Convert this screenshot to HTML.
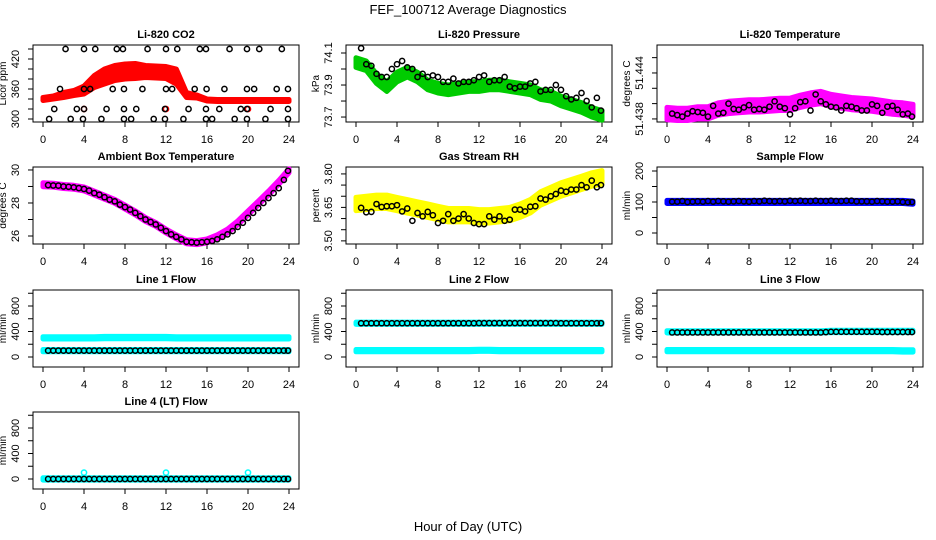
<!DOCTYPE html>
<html><head><meta charset="utf-8">
<style>
html,body{margin:0;padding:0;background:#fff;}
svg{display:block;font-family:"Liberation Sans",Arial,sans-serif;}
</style></head>
<body>
<svg id="chart" width="936" height="540" viewBox="0 0 936 540">
<text x="468" y="14" text-anchor="middle" font-size="13">FEF_100712  Average Diagnostics</text>
<text x="468" y="531" text-anchor="middle" font-size="13">Hour of Day (UTC)</text>
</svg>
<script>
// ---------- data ----------
const hours25 = [0,1,2,3,4,5,6,7,8,9,10,11,12,13,14,15,16,17,18,19,20,21,22,23,24];
const hours48 = [0.5,1,1.5,2,2.5,3,3.5,4,4.5,5,5.5,6,6.5,7,7.5,8,8.5,9,9.5,10,10.5,11,11.5,12,12.5,13,13.5,14,14.5,15,15.5,16,16.5,17,17.5,18,18.5,19,19.5,20,20.5,21,21.5,22,22.5,23,23.5,23.9];
const xTicks = [0,4,8,12,16,20,24];

const co2Band = [340,343,348,352,358,375,385,392,395,396,395,394,393,385,348,345,338,337,337,337,337,337,337,337,337];
const co2Half = [3,3,5,5,8,12,15,15,15,15,12,12,12,15,5,3,2,2,2,2,2,2,2,2,2];
const co2BlackT = [2.2,4.0,5.1,7.2,7.8,10.2,12.0,13.1,15.3,15.9,18.2,19.9,21.1,23.3, 1.66,4.0,4.6,6.8,7.9,9.7,12.0,12.6,14.8,15.96,17.7,19.9,20.6,22.8,23.9, 1.1,3.3,4.0,6.2,7.9,9.1,11.9,14.2,15.9,17.2,19.3,19.9,22.2,23.9, 0.6,2.7,3.9,5.7,7.9,8.6,10.8,11.9,13.7,15.9,16.5,18.7,19.9,21.7,23.9];
const co2BlackV = [440,440,440,440,440,440,440,440,440,440,440,440,440,440, 360,360,360,360,360,360,360,360,360,360,360,360,360,360,360, 320,320,320,320,320,320,320,320,320,320,320,320,320,320, 300,300,300,300,300,300,300,300,300,300,300,300,300,300,300];

const presBand = [74.04,74.02,73.94,73.89,73.95,73.98,73.95,73.90,73.88,73.87,73.88,73.89,73.89,73.90,73.90,73.89,73.88,73.87,73.84,73.83,73.80,73.78,73.76,73.73,73.71];
const presBlack = [74.13,74.03,74.02,73.97,73.95,73.95,74.0,74.03,74.05,74.01,74.0,73.95,73.97,73.95,73.96,73.95,73.92,73.92,73.94,73.91,73.92,73.92,73.93,73.95,73.96,73.92,73.93,73.93,73.95,73.89,73.88,73.89,73.89,73.91,73.92,73.86,73.87,73.87,73.90,73.87,73.83,73.81,73.82,73.85,73.80,73.76,73.82,73.74];

const tempBand = [51.4387,51.4386,51.4386,51.4388,51.4388,51.4393,51.4395,51.4396,51.4397,51.4397,51.4398,51.4399,51.4399,51.4403,51.4406,51.4408,51.4404,51.4402,51.4400,51.4399,51.4398,51.4396,51.4394,51.4393,51.4391];
const tempBlack = [51.4387,51.4385,51.4383,51.4387,51.4390,51.4389,51.4388,51.4383,51.4397,51.4387,51.4388,51.4400,51.4393,51.4392,51.4395,51.4398,51.4392,51.4393,51.4392,51.4396,51.4403,51.4396,51.4394,51.4386,51.4394,51.4402,51.4403,51.4391,51.4412,51.4403,51.4399,51.4396,51.4395,51.4391,51.4397,51.4396,51.4394,51.4391,51.4391,51.4399,51.4397,51.4388,51.4396,51.4397,51.4392,51.4386,51.4387,51.4383];

const ambBand = [29.1,29.08,29.0,28.95,28.85,28.6,28.35,28.1,27.75,27.4,27.0,26.7,26.3,25.95,25.65,25.6,25.7,25.95,26.3,26.8,27.4,28.0,28.6,29.25,29.95];
const ambBlack = [29.08,29.06,29.05,29.0,28.98,28.95,28.9,28.85,28.75,28.6,28.5,28.35,28.2,28.1,27.9,27.75,27.6,27.4,27.2,27.0,26.85,26.7,26.5,26.3,26.1,25.95,25.8,25.65,25.62,25.6,25.62,25.65,25.7,25.8,25.95,26.1,26.3,26.55,26.8,27.1,27.4,27.7,28.0,28.3,28.6,28.9,29.4,29.95];

const rhBand = [3.665,3.67,3.675,3.675,3.665,3.655,3.645,3.635,3.625,3.615,3.615,3.615,3.61,3.61,3.615,3.62,3.635,3.655,3.69,3.71,3.73,3.745,3.76,3.775,3.785];
const rhBlack = [3.648,3.628,3.63,3.665,3.652,3.655,3.655,3.66,3.632,3.645,3.59,3.625,3.61,3.63,3.615,3.58,3.59,3.62,3.59,3.60,3.62,3.60,3.58,3.575,3.575,3.61,3.595,3.61,3.59,3.595,3.64,3.64,3.632,3.653,3.655,3.69,3.685,3.70,3.71,3.725,3.72,3.73,3.73,3.75,3.74,3.77,3.74,3.75];

const sampleBand = [100,100,100,100,100,100,100,100,100,100,100,100,100,100,100,100,100,100,100,100,100,100,100,100,98];
const sampleBlack = [101,101,103,100,101,102,101,103,101,103,102,101,102,103,102,101,103,102,104,103,102,103,102,104,103,104,103,103,104,103,103,104,103,103,104,104,102,102,102,101,103,102,101,101,102,100,99,100];

const line1Hi = [300,300,300,300,300,300,305,305,305,305,305,305,305,300,300,300,300,300,300,300,300,300,300,300,300];
const line1Lo = [100,100,100,100,100,100,100,100,100,100,100,100,100,100,100,100,100,100,100,100,100,100,100,100,100];
const line1Black = [100,100,100,100,100,100,100,100,100,100,100,100,100,100,100,100,100,100,100,100,100,100,100,100,100,100,100,100,100,100,100,100,100,100,100,100,100,100,100,100,100,100,100,100,100,100,100,100];
const line2Hi = [530,530,530,530,530,530,530,530,530,530,530,530,530,530,530,530,530,530,530,530,530,530,530,530,530];
const line2Lo = [100,100,100,100,100,100,100,100,100,100,100,100,105,105,100,100,100,100,100,100,100,100,100,100,100];
const line2Black = [530,530,530,530,530,530,530,530,530,530,530,530,530,530,530,530,530,530,530,530,530,530,530,532,532,532,532,532,532,532,532,532,532,532,532,532,532,532,532,530,530,530,530,530,530,530,530,530];
const line3Hi = [395,395,395,395,395,395,395,395,395,395,395,395,395,395,395,395,400,400,400,400,400,400,400,400,400];
const line3Lo = [100,100,100,100,100,100,100,100,100,100,100,100,100,100,100,100,100,100,100,100,100,100,100,95,95];
const line3Black = [385,385,385,385,385,385,385,385,385,385,385,385,385,385,385,385,385,385,385,385,385,385,385,385,385,385,385,385,385,385,390,395,395,395,395,395,395,395,395,395,395,392,392,392,392,392,392,392];
const line4Band = [0,0,0,0,0,0,0,0,0,0,0,0,0,0,0,0,0,0,0,0,0,0,0,0,0];
const line4Black = [0,0,0,0,0,0,0,0,0,0,0,0,0,0,0,0,0,0,0,0,0,0,0,0,0,0,0,0,0,0,0,0,0,0,0,0,0,0,0,0,0,0,0,0,0,0,0,0];
const line4SpikeT = [4,12,20];
const line4SpikeV = [100,100,100];

// ---------- drawing ----------
const NS = "http://www.w3.org/2000/svg";
const svg = document.getElementById('chart');
function mk(tag, attrs, parent){
  const e = document.createElementNS(NS, tag);
  for (const k in attrs) e.setAttribute(k, attrs[k]);
  (parent||svg).appendChild(e);
  return e;
}
const BW = 266, BH = 77;
function panel(p){
  const g = mk('g', {});
  
  
  const xS = h => p.x + 10 + h * (246/24);
  const yS = v => p.y + BH - (v - p.ymin) / (p.ymax - p.ymin) * BH;
  p.xS = xS; p.yS = yS; p.g = g;
  const box = mk('rect', {x:p.x, y:p.y, width:BW, height:BH, fill:'none', stroke:'#000', 'stroke-width':1}, g);
  
  
  const t = mk('text', {x:p.x+BW/2, y:p.y-7, 'text-anchor':'middle', 'font-size':11, 'font-weight':'bold'}, g);
  t.textContent = p.title;
  
  
  xTicks.forEach(h => {
    mk('line', {x1:xS(h), x2:xS(h), y1:p.y+BH, y2:p.y+BH+5, stroke:'#000'}, g);
    const l = mk('text', {x:xS(h), y:p.y+BH+21, 'text-anchor':'middle', 'font-size':11}, g);
    l.textContent = h;
    
    
  });
  p.yTicks.forEach(v => {
    mk('line', {x1:p.x-5, x2:p.x, y1:yS(v), y2:yS(v), stroke:'#000'}, g);
  });
  p.yLabels.forEach((v,i) => {
    const yy = yS(v), xx = p.x - 17;
    const l = mk('text', {x:xx, y:yy, 'text-anchor':'middle', 'dominant-baseline':'central', 'font-size':11, transform:`rotate(-90 ${xx} ${yy})`}, g);
    l.textContent = p.yLabelText[i];
    
    
  });
  const xx = p.x - 27, yy = p.y + BH/2;
  const yt = mk('text', {x:xx, y:yy, 'text-anchor':'middle', 'font-size':10, transform:`rotate(-90 ${xx} ${yy})`}, g);
  yt.textContent = p.ylab;
  
  
  return p;
}
function band(p, hs, lo, hi, color){
  let pts = [];
  hs.forEach((h,i) => pts.push(p.xS(h).toFixed(1)+','+p.yS(hi[i]).toFixed(1)));
  for (let i = hs.length-1; i >= 0; i--) pts.push(p.xS(hs[i]).toFixed(1)+','+p.yS(lo[i]).toFixed(1));
  const e = mk('polygon', {points:pts.join(' '), fill:color, stroke:color, 'stroke-width':5, 'stroke-linejoin':'round'}, p.g);
  
  
}
function bandMid(p, hs, mid, half, color){
  const lo = mid.map((m,i) => m - (Array.isArray(half) ? half[i] : half));
  const hi = mid.map((m,i) => m + (Array.isArray(half) ? half[i] : half));
  band(p, hs, lo, hi, color);
}
function pts(p, ts, vs, color){
  ts.forEach((h,i) => {
    const c = mk('circle', {cx:p.xS(h), cy:p.yS(vs[i]), r:2.6, fill:'none', stroke:color, 'stroke-width':1.5}, p.g);
    
    
  });
}
const C1 = 33, C2 = 346, C3 = 657, R1 = 45, R2 = 167, R3 = 290, R4 = 412;
const flowTicks = [0,200,400,600,800,1000];

const pCO2 = panel({name:'co2-panel', title:'Li-820 CO2', ylab:'Licor ppm', x:C1, y:R1, ymin:294, ymax:448,
  yTicks:[300,320,340,360,380,400,420,440], yLabels:[300,360,420], yLabelText:['300','360','420']});
bandMid(pCO2, hours25, co2Band, co2Half, '#ff0000');
pts(pCO2, [4,12,20], [320,320,320], '#ff0000');
pts(pCO2, co2BlackT, co2BlackV, '#000');

const pP = panel({name:'pressure-panel', title:'Li-820 Pressure', ylab:'kPa', x:C2, y:R1, ymin:73.669, ymax:74.15,
  yTicks:[73.7,73.8,73.9,74.0,74.1], yLabels:[73.7,73.9,74.1], yLabelText:['73.7','73.9','74.1']});
bandMid(pP, hours25, presBand, 0.03, '#00cc00');
pts(pP, hours48, presBlack, '#000');

const pT = panel({name:'temperature-panel', title:'Li-820 Temperature', ylab:'degrees C', x:C3, y:R1, ymin:51.4376, ymax:51.44765,
  yTicks:[51.438,51.440,51.442,51.444,51.446], yLabels:[51.438,51.444], yLabelText:['51.438','51.444']});
bandMid(pT, hours25, tempBand, 0.0008, '#ff00ff');
pts(pT, hours48, tempBlack, '#000');

const pA = panel({name:'ambient-temperature-panel', title:'Ambient Box Temperature', ylab:'degrees C', x:C1, y:R2, ymin:25.515, ymax:30.18,
  yTicks:[26,27,28,29,30], yLabels:[26,28,30], yLabelText:['26','28','30']});
bandMid(pA, hours25, ambBand, 0.12, '#ff00ff');
pts(pA, hours48, ambBlack, '#000');

const pR = panel({name:'rh-panel', title:'Gas Stream RH', ylab:'percent', x:C2, y:R2, ymin:3.486, ymax:3.831,
  yTicks:[3.50,3.55,3.60,3.65,3.70,3.75,3.80], yLabels:[3.50,3.65,3.80], yLabelText:['3.50','3.65','3.80']});
bandMid(pR, hours25, rhBand, 0.03, '#ffff00');
pts(pR, hours48, rhBlack, '#000');

const pS = panel({name:'sample-flow-panel', title:'Sample Flow', ylab:'ml/min', x:C3, y:R2, ymin:-35.5, ymax:212.9,
  yTicks:[0,50,100,150,200], yLabels:[0,100,200], yLabelText:['0','100','200']});
bandMid(pS, hours25, sampleBand, 5, '#0000ff');
pts(pS, hours48, sampleBlack, '#000');

const fl = {ymin:-157, ymax:1051, yTicks:flowTicks, yLabels:[0,400,800], yLabelText:['0','400','800'], ylab:'ml/min'};
const pL1 = panel(Object.assign({name:'line1-flow-panel', title:'Line 1 Flow', x:C1, y:R3}, fl));
bandMid(pL1, hours25, line1Hi, 18, '#00ffff');
bandMid(pL1, hours25, line1Lo, 18, '#00ffff');
pts(pL1, hours48, line1Black, '#000');

const pL2 = panel(Object.assign({name:'line2-flow-panel', title:'Line 2 Flow', x:C2, y:R3}, fl));
bandMid(pL2, hours25, line2Hi, 18, '#00ffff');
bandMid(pL2, hours25, line2Lo, 18, '#00ffff');
pts(pL2, hours48, line2Black, '#000');

const pL3 = panel(Object.assign({name:'line3-flow-panel', title:'Line 3 Flow', x:C3, y:R3}, fl));
bandMid(pL3, hours25, line3Hi, 18, '#00ffff');
bandMid(pL3, hours25, line3Lo, 18, '#00ffff');
pts(pL3, hours48, line3Black, '#000');

const pL4 = panel(Object.assign({name:'line4-flow-panel', title:'Line 4 (LT) Flow', x:C1, y:R4}, fl));
bandMid(pL4, hours25, line4Band, 18, '#00ffff');
pts(pL4, line4SpikeT, line4SpikeV, '#00ffff');
pts(pL4, hours48, line4Black, '#000');
</script>
</body></html>
